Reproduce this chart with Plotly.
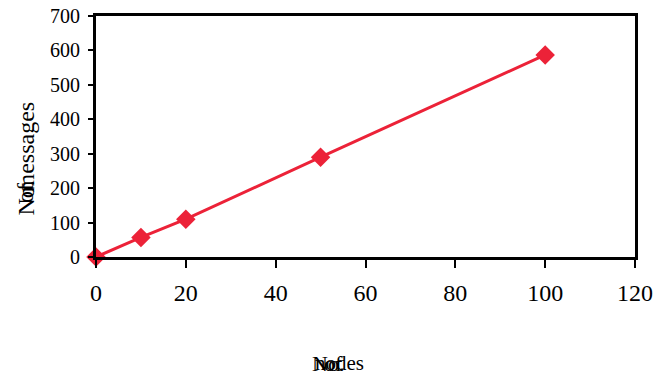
import plotly.graph_objects as go

nodes = [0, 10, 20, 50, 100]
messages = [0, 57, 110, 290, 587]
x_ticks = [0, 20, 40, 60, 80, 100, 120]
y_ticks = [0, 100, 200, 300, 400, 500, 600, 700]

RED = "#ec2238"
FONT = "Liberation Serif"

W, H = 655, 378
L, T = 96, 16
PW, PH = 539, 241
R = W - L - PW
B = H - T - PH

fig = go.Figure()
fig.add_trace(go.Scatter(
    x=nodes, y=messages, mode="lines+markers",
    line=dict(color=RED, width=3),
    marker=dict(symbol="diamond", size=15, color=RED),
    showlegend=False, cliponaxis=False,
))

fig.update_layout(
    width=W, height=H,
    margin=dict(l=L, r=R, t=T, b=B),
    paper_bgcolor="white", plot_bgcolor="white",
    font=dict(family=FONT, size=20, color="black"),
    xaxis=dict(range=[0, 120], tickvals=x_ticks, ticktext=[str(v) for v in x_ticks],
               showgrid=False, zeroline=False, showline=True, linecolor="black",
               linewidth=3, mirror=True, ticks="outside", ticklen=8, tickwidth=2,
               tickcolor="black", ticklabelstandoff=4, automargin=False,
               ticklabeloverflow="allow",
               tickfont=dict(family=FONT, size=24)),
    yaxis=dict(range=[0, 700], tickvals=y_ticks, ticktext=[str(v) for v in y_ticks],
               showgrid=False, zeroline=False, showline=True, linecolor="black",
               linewidth=3, mirror=True, ticks="outside", ticklen=5, tickwidth=2,
               tickcolor="black", automargin=False, ticklabelstandoff=4,
               ticklabeloverflow="allow",
               tickfont=dict(family=FONT, size=20)),
)

# Overlapping axis-title words, as in the reference
ann = []
for txt, xp, fs in [("No.", 310, 22), ("of", 322, 22), ("nodes", 313, 21)]:
    ann.append(dict(text=txt, xref="paper", yref="paper", x=(xp - L) / PW, y=0,
                    xanchor="left", yanchor="middle", yshift=-(363 - 257),
                    showarrow=False, font=dict(family=FONT, size=fs, color="black")))
for txt, yp in [("No.", 218), ("of", 205), ("messages", 195)]:
    ann.append(dict(text=txt, xref="paper", yref="paper", x=0, xshift=-(L - 25),
                    y=(257 - yp) / PH, yanchor="bottom", xanchor="center",
                    textangle=-90, showarrow=False,
                    font=dict(family=FONT, size=24, color="black")))
fig.update_layout(annotations=ann)

fig.write_html("out.html",
               config={"displayModeBar": False},
               post_script="document.body.style.margin='0';document.body.style.padding='0';")
